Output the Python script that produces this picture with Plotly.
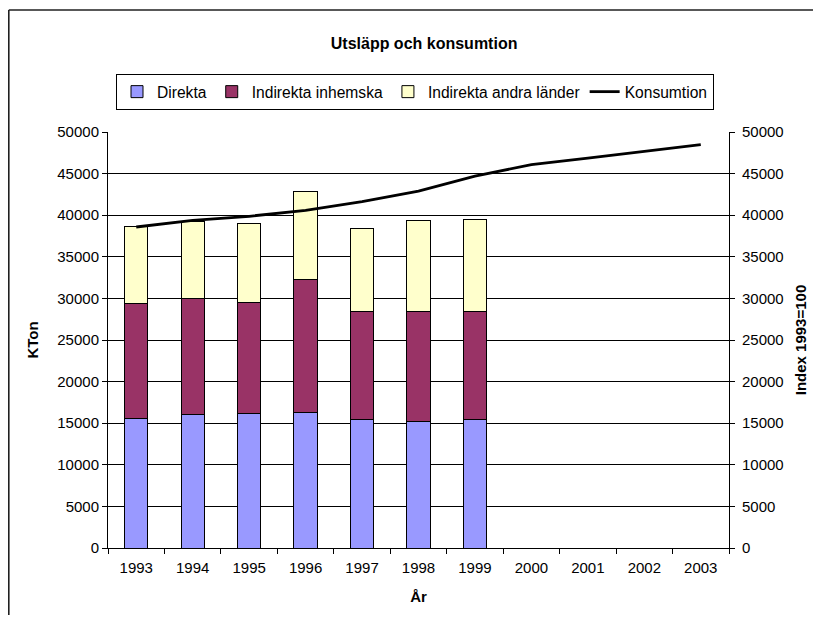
# -*- coding: utf-8 -*-
import plotly.graph_objects as go

years = ['1993', '1994', '1995', '1996', '1997', '1998', '1999',
         '2000', '2001', '2002', '2003']
direkta = [15600, 16000, 16150, 16300, 15450, 15150, 15450]
indirekta_inhemska = [13750, 14000, 13370, 16020, 12990, 13290, 12990]
indirekta_andra = [9250, 9280, 9440, 10530, 10000, 10880, 11080]
konsumtion = [38580, 39390, 39870, 40590, 41630, 42900, 44700,
              46080, 46870, 47670, 48490]
y_ticks = list(range(0, 50001, 5000))

FONT = 'Liberation Sans, Arial, sans-serif'

# the page body has an 8px margin on every side, so the figure is made
# 16px smaller than the window and placed relative to that offset
W, H = 813, 607
L, R, T, B = 100, 92, 124, 67
PW, PH = W - L - R, H - T - B

bar_line = dict(color='black', width=1)

fig = go.Figure()
fig.add_trace(go.Bar(
    name=u'Direkta', x=years[:len(direkta)], y=direkta,
    marker=dict(color='#9999FF', line=bar_line),
))
fig.add_trace(go.Bar(
    name=u'Indirekta inhemska', x=years[:len(indirekta_inhemska)],
    y=indirekta_inhemska,
    marker=dict(color='#993366', line=bar_line),
))
fig.add_trace(go.Bar(
    name=u'Indirekta andra länder', x=years[:len(indirekta_andra)],
    y=indirekta_andra,
    marker=dict(color='#FFFFCC', line=bar_line),
))
fig.add_trace(go.Scatter(
    name=u'Konsumtion', x=years, y=konsumtion, yaxis='y2',
    mode='lines', line=dict(color='black', width=2.8),
))

axis_common = dict(
    range=[0, 50000],
    tickvals=y_ticks,
    tickformat='d',
    ticks='outside', ticklen=5, tickcolor='black',
    showline=True, linecolor='black', linewidth=1,
    tickfont=dict(family=FONT, size=15, color='black'),
    zeroline=False,
    automargin=False,
)

frame = dict(color='#202020', width=1.6)

layout = dict(
    width=W, height=H,
    margin=dict(l=L, r=R, t=T, b=B),
    paper_bgcolor='white', plot_bgcolor='white',
    font=dict(family=FONT, color='black'),
    barmode='stack',
    bargap=0.587,
    title=dict(
        text=u'<b>Utsläpp och konsumtion</b>',
        font=dict(family=FONT, size=16, color='black'),
        x=0.509, xanchor='center', xref='paper',
        y=1 - 35 / float(H), yanchor='middle', yref='container',
    ),
    xaxis=dict(
        type='category',
        categoryorder='array', categoryarray=years,
        range=[-0.5, len(years) - 0.5],
        ticks='outside', ticklen=5, tickcolor='black',
        tickson='boundaries',
        ticklabelstandoff=6,
        showline=True, linecolor='black', linewidth=1,
        showgrid=False,
        tickfont=dict(family=FONT, size=15, color='black'),
        title=dict(text=u'<b>År</b>', font=dict(family=FONT, size=15),
                   standoff=16),
        automargin=False,
    ),
    yaxis=dict(
        axis_common,
        side='left',
        showgrid=True, gridcolor='black', gridwidth=1,
        title=dict(text=u'<b>KTon</b>', font=dict(family=FONT, size=15),
                   standoff=15),
    ),
    yaxis2=dict(
        axis_common,
        side='right', overlaying='y', anchor='x',
        showgrid=False,
        ticklabelstandoff=4,
        title=dict(text=u'<b>Index 1993=100</b>',
                   font=dict(family=FONT, size=15), standoff=12),
    ),
    legend=dict(
        orientation='h',
        x=(108 - L) / float(PW), xanchor='left',
        y=(H - B - 66) / float(PH), yanchor='top',
        bgcolor='white', bordercolor='black', borderwidth=1,
        font=dict(family=FONT, size=15.6, color='black'),
        traceorder='normal',
        itemclick=False,
    ),
    showlegend=True,
    shapes=[
        # outer chart frame: only its left and top edges are in view
        dict(type='line', xref='paper', yref='paper',
             x0=(0.8 - L) / float(PW), x1=(0.8 - L) / float(PW),
             y0=-B / float(PH), y1=(H - B - 2) / float(PH),
             line=frame, layer='below'),
        dict(type='line', xref='paper', yref='paper',
             x0=(0.8 - L) / float(PW), x1=(W - L) / float(PW),
             y0=(H - B - 2) / float(PH), y1=(H - B - 2) / float(PH),
             line=frame, layer='below'),
    ],
)

fig.update_layout(layout)

fig.write_html('out.html')
